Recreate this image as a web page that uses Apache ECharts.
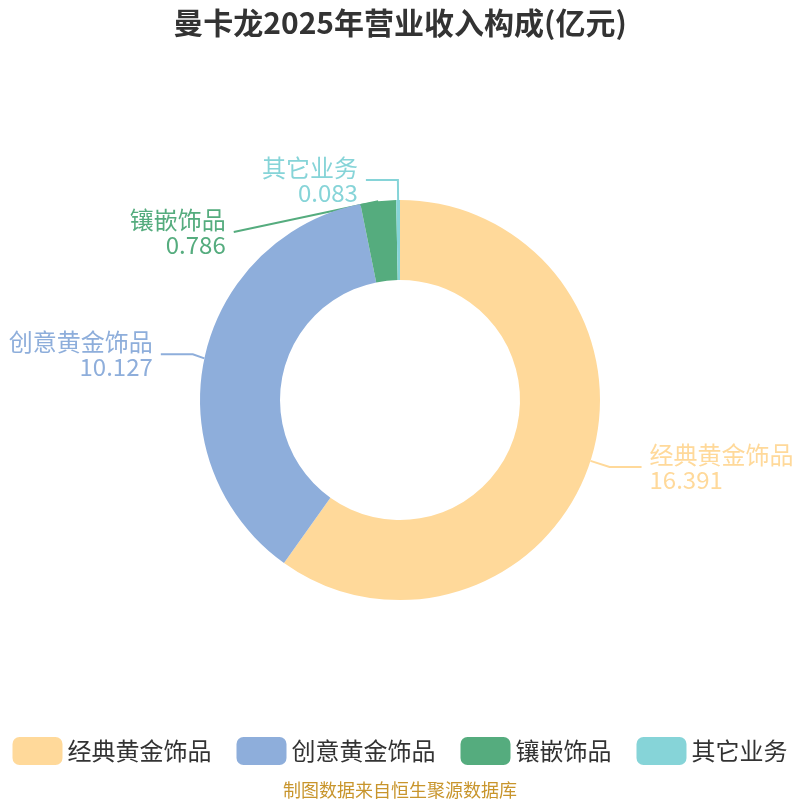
<!DOCTYPE html>
<html style="height: 100%">
	<head>
		<meta charset="utf-8" />
		<script src="https://cdn.jsdelivr.net/npm/echarts@6/dist/echarts.min.js"></script>
		<title>曼卡龙营业收入构成</title>
	</head>
	<body style="height: 100%; margin: 0">
		<div id="container" style="width: 800px; height: 800px"></div>
		<script type="text/javascript">
			// 数据
			let categories = ["经典黄金饰品", "创意黄金饰品", "镶嵌饰品", "其它业务"];
			let values = [16.391, 10.127, 0.786, 0.083];
			let colors = ["#FFD99A", "#8EAEDB", "#55AC7E", "#86D4D8"];

			let pieData = categories.map((name, i) => ({
				name: name,
				value: values[i],
				itemStyle: { color: colors[i] },
				label: { color: colors[i] },
				labelLine: { lineStyle: { color: colors[i] } },
			}));

			let chart = echarts.init(document.getElementById("container"));
			chart.setOption({
				title: {
					text: "曼卡龙2025年营业收入构成(亿元)",
					left: "center",
					top: 3,
					textStyle: {
						fontSize: 30,
						fontWeight: "bold",
						color: "#333",
						fontFamily: "Noto Sans CJK SC",
					},
				},
				legend: {
					bottom: 30,
					left: "center",
					icon: "roundRect",
					itemWidth: 50,
					itemHeight: 28,
					itemGap: 25,
					textStyle: {
						fontSize: 24,
						color: "#333",
						fontFamily: "Noto Sans CJK SC",
					},
					data: categories,
				},
				graphic: [
					{
						type: "text",
						left: "center",
						bottom: 1,
						style: {
							text: "制图数据来自恒生聚源数据库",
							fill: "#C8952C",
							fontSize: 18,
							fontFamily: "Noto Sans CJK SC",
						},
					},
				],
				series: [
					{
						type: "pie",
						center: ["50%", "50%"],
						radius: ["30%", "50%"],
						startAngle: 90,
						clockwise: true,
						avoidLabelOverlap: true,
						label: {
							show: true,
							formatter: "{b}\n{c}",
							fontSize: 24,
							lineHeight: 25,
							overflow: "none",
							distanceToLabelLine: 8,
							fontFamily: "Noto Sans CJK SC",
						},
						labelLine: {
							show: true,
							length: 20,
							length2: 32,
							lineStyle: { width: 2 },
						},
						data: pieData,
					},
				],
			});
		</script>
	</body>
</html>
